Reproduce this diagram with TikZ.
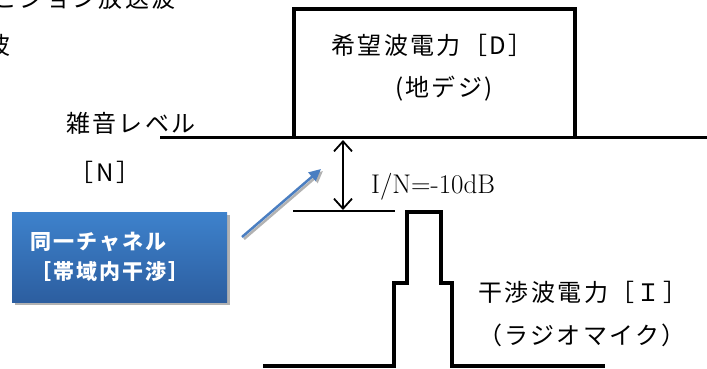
\documentclass[tikz,border=0pt]{standalone}
\usepackage{fontspec}
\newfontfamily\jpfont{Noto Sans CJK JP}[LetterSpace=10]
\usetikzlibrary{arrows.meta}

\begin{document}
\begin{tikzpicture}[x=1pt,y=-1pt,line join=miter,
        lbl/.style={inner sep=0pt,font=\jpfont\fontsize{24}{28}\selectfont},
        boxlbl/.style={inner sep=0pt,align=left,text=white,font=\jpfont\bfseries\fontsize{21}{30}\selectfont},
        level/.style={line width=3pt},
        power/.style={line width=4pt},
        chanbox/.style={draw=none,minimum width=215pt,minimum height=90pt,top color=boxtop,bottom color=boxbot},
        ratio/.style={line width=1.8pt,{Straight Barb[length=10pt,width=18pt]}-{Straight Barb[length=10pt,width=18pt]}}]
    \definecolor{boxtop}{RGB}{62,130,204}
    \definecolor{boxbot}{RGB}{44,94,160}
    \definecolor{arrowblue}{RGB}{74,126,193}
    \useasboundingbox (0,0) rectangle (707,368);
    % cut-off heading
    \node[lbl,anchor=east] (tv) at (176,-2) {ビジョン放送波};
    \node[lbl,anchor=east] (tv2) at (11,45) {波};
    % noise level and desired signal
    \draw [level] (160,137)-- (707,137);
    \draw [power] (294,137)-- (294,9)-- (575,9)-- (575,137);
    \node[lbl] (des1) at (432,45) {希望波電力［D］};
    \node[lbl] (des2) at (444,89) {(地デジ)};
    \node[lbl] (nz1) at (131,123) {雑音レベル};
    \node[lbl] (nz2) at (105,172) {［N］};
    % interfering signal
    \draw [line width=1.5pt] (293,211)-- (395,211);
    \draw [power] (263,366)-- (394,366)-- (394,283)-- (407,283)-- (407,212)-- (441,212)-- (441,283)-- (452,283)-- (452,366)-- (605,366);
    \coordinate (top) at (343,140);
    \coordinate (bot) at (343,210);
    \draw [ratio] (top)-- (bot);
    \node[anchor=west,inner sep=0pt,font=\fontsize{27}{30}\selectfont] (ratiolbl) at (371,187) {I/N=-10dB};
    \node[lbl] (int1) at (583,292) {干渉波電力［Ｉ］};
    \node[lbl] (int2) at (582,335) {（ラジオマイク）};
    % co-channel box
    \fill [black!30] (15,215) rectangle (230,305);
    \node[chanbox] (chan) at (119.5,257) {};
    \node[boxlbl] (chantxt) at (110,257) {同一チャネル\\［帯域内干渉］};
    \coordinate (tail) at (242,237);
    \coordinate (tip) at (321,169);
    \draw [line width=2.5pt,black!30,-{Triangle[length=12pt,width=11pt]}] ([shift={(2,2)}]tail)-- ([shift={(2,2)}]tip);
    \draw [line width=2.5pt,arrowblue,-{Triangle[length=12pt,width=11pt]}] (tail)-- (tip);
\end{tikzpicture}
\end{document}
